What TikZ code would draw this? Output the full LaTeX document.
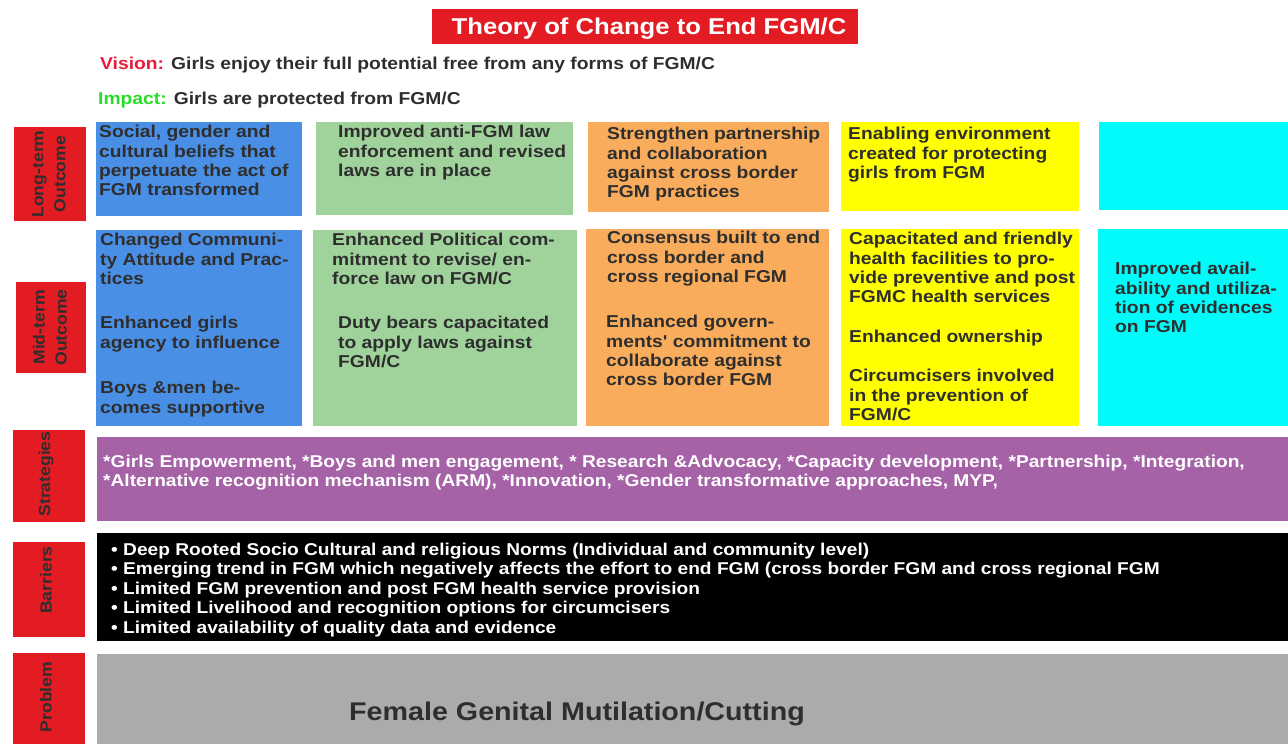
\documentclass[tikz,border=0pt]{standalone}
\usepackage{fontspec}
\newfontfamily\af[FakeStretch=1.12]{Liberation Sans}
\newfontfamily\lf[FakeStretch=1.1]{Liberation Sans}
\definecolor{redl}{HTML}{E31B23}
\definecolor{blueb}{HTML}{4A8FE6}
\definecolor{greenb}{HTML}{A0D29B}
\definecolor{orangeb}{HTML}{F9AC5B}
\definecolor{yellowb}{HTML}{FFFF00}
\definecolor{cyanb}{HTML}{00FBFB}
\definecolor{purpleb}{HTML}{A562A7}
\definecolor{grayb}{HTML}{ABABAB}
\definecolor{tdark}{HTML}{2E2E2E}
\definecolor{visred}{HTML}{EA1A3A}
\definecolor{impgreen}{HTML}{28DD28}
\tikzset{
  txt/.style={anchor=north west, inner sep=0pt, align=left, text=tdark,
    font=\af\bfseries\fontsize{17.2}{19.4}\selectfont},
  wtxt/.style={anchor=north west, inner sep=0pt, align=left, text=white,
    font=\af\bfseries\fontsize{17.1}{19.4}\selectfont},
  lab/.style={rotate=90, inner sep=0pt, align=center, text=tdark,
    font=\lf\bfseries\fontsize{16}{22}\selectfont},
  hd/.style={anchor=base west, inner sep=0pt, text=tdark,
    font=\af\bfseries\fontsize{17.2}{19.4}\selectfont}
}
\begin{document}
\begin{tikzpicture}[x=1pt,y=-1pt]
\fill[white] (0,0) rectangle (1288,744);
\useasboundingbox (0,0) rectangle (1288,744);
% title
\fill[redl] (432,9) rectangle (858,44);
\node[inner sep=0pt, text=white, font=\af\bfseries\fontsize{22.9}{26}\selectfont] (title) at (649,28.5) {Theory of Change to End FGM/C};
\node[hd] (vision) at (100,69) {\textcolor{visred}{Vision:} Girls enjoy their full potential free from any forms of FGM/C};
\node[hd] (impact) at (98,104) {\textcolor{impgreen}{Impact:} Girls are protected from FGM/C};
% side labels
\fill[redl] (14,127) rectangle (86,221);
\node[lab] (l1) at (49,174) {Long-term\\Outcome};
\fill[redl] (16,282) rectangle (86,373);
\node[lab] (l2) at (50,327.5) {Mid-term\\Outcome};
\fill[redl] (13,430) rectangle (85,522);
\node[lab] (l3) at (46,474) {Strategies};
\fill[redl] (13,542) rectangle (85,637);
\node[lab] (l4) at (46,580) {Barriers};
\fill[redl] (13,653) rectangle (85,744);
\node[lab] (l5) at (46,697) {Problem};
% long-term row
\fill[blueb] (96,122) rectangle (302,216);
\fill[greenb] (316,122) rectangle (573,215);
\fill[orangeb] (588,122) rectangle (829,212);
\fill[yellowb] (841,122) rectangle (1079,211);
\fill[cyanb] (1099,122) rectangle (1288,210);
\node[txt] (a1) at (99,125) {Social, gender and\\cultural beliefs that\\perpetuate the act of\\FGM transformed};
\node[txt] (a2) at (338,125) {Improved anti-FGM law\\enforcement and revised\\laws are in place};
\node[txt] (a3) at (607,127) {Strengthen partnership\\and collaboration\\against cross border\\FGM practices};
\node[txt] (a4) at (848,127) {Enabling environment\\created for protecting\\girls from FGM};
% mid-term row
\fill[blueb] (96,230) rectangle (302,426);
\fill[greenb] (313,230) rectangle (577,426);
\fill[orangeb] (586,229) rectangle (829,426);
\fill[yellowb] (841,229) rectangle (1079,426);
\fill[cyanb] (1098,229) rectangle (1288,426);
\node[txt] (b1a) at (100,233) {Changed Communi-\\ty Attitude and Prac-\\tices};
\node[txt] (b1b) at (100,316) {Enhanced girls\\agency to influence};
\node[txt] (b1c) at (100,381) {Boys \&men be-\\comes supportive};
\node[txt] (b2a) at (332,233) {Enhanced Political com-\\mitment to revise/ en-\\force law on FGM/C};
\node[txt] (b2b) at (338,316) {Duty bears capacitated\\to apply laws against\\FGM/C};
\node[txt] (b3a) at (607,231) {Consensus built to end\\cross border and\\cross regional FGM};
\node[txt] (b3b) at (606,315) {Enhanced govern-\\ments' commitment to\\collaborate against\\cross border FGM};
\node[txt] (b4a) at (849,232) {Capacitated and friendly\\health facilities to pro-\\vide preventive and post\\FGMC health services};
\node[txt] (b4b) at (849,330) {Enhanced ownership};
\node[txt] (b4c) at (849,369) {Circumcisers involved\\in the prevention of\\FGM/C};
\node[txt] (b5) at (1115,262) {Improved avail-\\ability and utiliza-\\tion of evidences\\on FGM};
% strategies
\fill[purpleb] (97,437) rectangle (1288,521);
\node[wtxt] (s) at (103,455) {*Girls Empowerment, *Boys and men engagement, * Research \&Advocacy, *Capacity development, *Partnership, *Integration,\\*Alternative recognition mechanism (ARM), *Innovation, *Gender transformative approaches, MYP,};
% barriers
\fill[black] (97,533) rectangle (1288,641);
\node[wtxt] (br) at (111,543) {• Deep Rooted Socio Cultural and religious Norms (Individual and community level)\\• Emerging trend in FGM which negatively affects the effort to end FGM (cross border FGM and cross regional FGM\\• Limited FGM prevention and post FGM health service provision\\• Limited Livelihood and recognition options for circumcisers\\• Limited availability of quality data and evidence};
% problem
\fill[grayb] (97,654) rectangle (1288,744);
\node[anchor=west, inner sep=0pt, text=tdark, font=\af\bfseries\fontsize{25.6}{28}\selectfont] (p) at (349,714) {Female Genital Mutilation/Cutting};
\end{tikzpicture}
\end{document}
